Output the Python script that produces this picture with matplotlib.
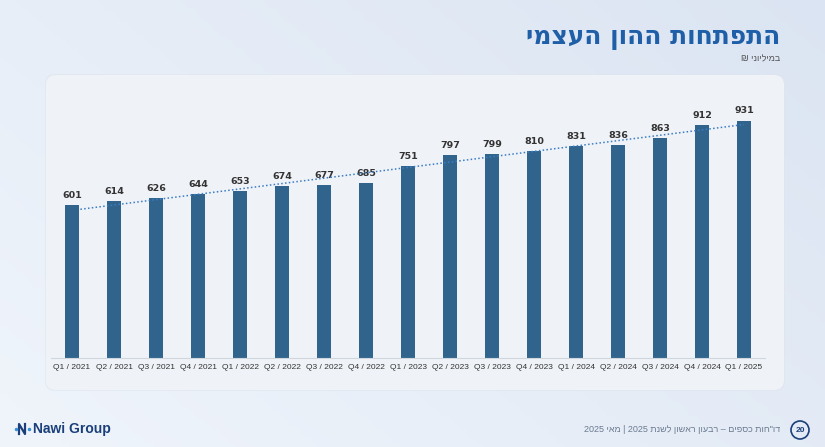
import re
import numpy as np
import matplotlib
matplotlib.use('Agg')
import matplotlib.pyplot as plt
from matplotlib.patches import FancyBboxPatch, Circle

quarters = ['Q1 / 2021', 'Q2 / 2021', 'Q3 / 2021', 'Q4 / 2021',
            'Q1 / 2022', 'Q2 / 2022', 'Q3 / 2022', 'Q4 / 2022',
            'Q1 / 2023', 'Q2 / 2023', 'Q3 / 2023', 'Q4 / 2023',
            'Q1 / 2024', 'Q2 / 2024', 'Q3 / 2024', 'Q4 / 2024',
            'Q1 / 2025']
equity = [601, 614, 626, 644, 653, 674, 677, 685, 751, 797, 799, 810,
          831, 836, 863, 912, 931]

title = 'התפתחות ההון העצמי'
subtitle = 'במיליוני ₪'
footer = 'דו"חות כספים – רבעון ראשון לשנת 2025 | מאי 2025'

plt.rcParams['font.family'] = ['Liberation Sans', 'DejaVu Sans']


def rtl(s):
    # matplotlib has no bidi, so flip the text and put number runs back
    r = s[::-1]
    return re.sub(r'\d+', lambda m: m.group(0)[::-1], r)


W, H = 825, 447
fig = plt.figure(figsize=(W / 100, H / 100), dpi=100)

# background gradient
bg = fig.add_axes([0, 0, 1, 1])
xx, yy = np.meshgrid(np.linspace(0, 1, 200), np.linspace(0, 1, 100))
c0 = np.array([0.94, 0.96, 0.985])
c1 = np.array([0.86, 0.895, 0.95])
t = (0.6 * xx + 0.4 * (1 - yy))[..., None]
bg.imshow(c0 * (1 - t) + c1 * t, extent=[0, W, H, 0], aspect='auto')
bg.set_xlim(0, W)
bg.set_ylim(H, 0)
bg.axis('off')

# panel with a soft edge
bg.add_patch(FancyBboxPatch((45, 74), 740, 317, boxstyle='round,pad=0,rounding_size=10',
                            fc='#dfe5ee', ec='none', alpha=0.6))
bg.add_patch(FancyBboxPatch((46, 75), 738, 315, boxstyle='round,pad=0,rounding_size=10',
                            fc='#f0f3f8', ec='none', alpha=0.95))

bg.text(780, 38, rtl(title), ha='right', va='center', fontsize=18,
        fontweight='bold', color='#1f5fa8', family=['DejaVu Sans'])
bg.text(780, 59, rtl(subtitle), ha='right', va='center', fontsize=6.5,
        color='#555555')

# footer
bg.text(33, 429, 'Nawi Group', ha='left', va='center', fontsize=10,
        fontweight='bold', color='#1b3f7a',
        family=['Liberation Sans Narrow', 'Liberation Sans'])
bg.plot([19, 19, 25, 25], [434, 424, 434, 424], color='#1b3f7a', lw=1.6)
bg.plot([15.5, 28.5], [429, 429], ls='none', marker='o', ms=1.5, color='#3a8fd6')
bg.text(780, 429, rtl(footer), ha='right', va='center', fontsize=6.5,
        color='#6a7a90')
bg.add_patch(Circle((800, 430), 9, fc='none', ec='#1b3f7a', lw=1.2))
bg.text(800, 430, '20', ha='center', va='center', fontsize=6,
        fontweight='bold', color='#1b3f7a')

# chart axes
ax = fig.add_axes([51 / W, 1 - 358 / H, 714 / W, 255 / H])
ax.patch.set_alpha(0)
x = np.arange(len(equity))
ax.bar(x, equity, width=0.33, color='#31648c', zorder=2)
for xi, v in zip(x, equity):
    ax.text(xi, v + 20, str(v), ha='center', va='bottom', fontsize=6.8,
            fontweight='bold', color='#333333', family=['DejaVu Sans'])

k, b = np.polyfit(x, equity, 1)
xt = np.array([0.2, len(equity) - 1])
ax.plot(xt, k * xt + b, ls=(0, (1, 1.5)), color='#3b7dc4', lw=1.1, zorder=3)

ax.set_xlim(-0.5, len(equity) - 0.5)
ax.set_ylim(0, 1000)
ax.set_xticks(x)
ax.set_xticklabels(quarters, fontsize=6, color='#333333')
ax.tick_params(axis='x', length=0, pad=4)
ax.set_yticks([])
for s in ['top', 'right', 'left']:
    ax.spines[s].set_visible(False)
ax.spines['bottom'].set_color('#d0d6de')

fig.savefig('out.png', dpi=100)
